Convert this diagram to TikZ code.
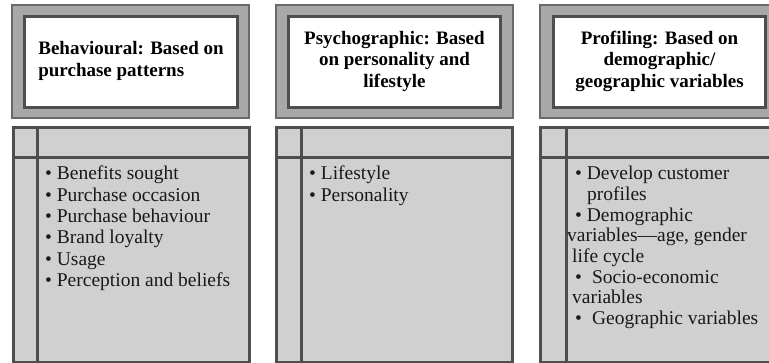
\documentclass[tikz,border=0pt]{standalone}
\usepackage{fontspec}
\setmainfont{Liberation Serif}
\definecolor{framegray}{HTML}{A8A8A8}
\definecolor{panelgray}{HTML}{D0D0D0}
\definecolor{edgedark}{HTML}{4E4E4E}
\definecolor{edgemid}{HTML}{6A6A6A}
\tikzset{
  hdrout/.style={draw=edgemid, fill=framegray, line width=2pt, rectangle,
    anchor=north west, inner sep=0pt, minimum width=237pt, minimum height=113pt},
  hdrin/.style={draw=edgedark, fill=white, line width=3pt, rectangle,
    anchor=north west, inner sep=0pt, minimum height=91pt},
  panel/.style={draw=edgedark, fill=panelgray, line width=2.5pt, rectangle,
    anchor=north west, inner sep=0pt, minimum width=236pt, minimum height=235pt},
  divider/.style={draw=edgedark, line width=3pt},
  hdrtext/.style={font=\fontsize{19}{21.5}\selectfont\bfseries, inner sep=0pt, text=black},
  listtext/.style={font=\fontsize{19.5}{21.3}\selectfont, align=left,
    anchor=north west, inner sep=0pt, text=black!90}
}
\begin{document}
\begin{tikzpicture}[x=1pt,y=-1pt]
\useasboundingbox (0,0) rectangle (769,362);
\clip (0,0) rectangle (769,362);

% column 1: behavioural
\node[hdrout] (h1) at (11,4) {};
\node[hdrin, minimum width=213pt] (i1) at (23,15) {};
\node[hdrtext, align=left] (t1) at ([yshift=1pt]i1.center) {Behavioural: Based on\\purchase patterns};
\node[panel] (p1) at (12,126) {};
\coordinate (v1) at ([xshift=25pt]p1.north west);
\coordinate (r1) at ([yshift=-31pt]p1.north west);
\draw[divider] (v1) -- (v1 |- p1.south);
\draw[divider] (r1) -- (r1 -| p1.east);
\node[listtext] (l1) at (45,166) {• Benefits sought\\• Purchase occasion\\• Purchase behaviour\\• Brand loyalty\\• Usage\\• Perception and beliefs};

% column 2: psychographic
\node[hdrout] (h2) at (275,4) {};
\node[hdrin, minimum width=212pt] (i2) at (287,15) {};
\node[hdrtext, align=center] (t2) at ([yshift=1pt]i2.center) {Psychographic: Based\\on personality and\\lifestyle};
\node[panel] (p2) at (275,126) {};
\coordinate (v2) at ([xshift=26pt]p2.north west);
\coordinate (r2) at ([yshift=-31pt]p2.north west);
\draw[divider] (v2) -- (v2 |- p2.south);
\draw[divider] (r2) -- (r2 -| p2.east);
\node[listtext] (l2) at (309,166) {• Lifestyle\\• Personality};

% column 3: profiling
\node[hdrout] (h3) at (539,4) {};
\node[hdrin, minimum width=212pt] (i3) at (552,15) {};
\node[hdrtext, align=center] (t3) at ([yshift=1pt]i3.center) {Profiling: Based on\\demographic/\\geographic variables};
\node[panel] (p3) at (539,126) {};
\coordinate (v3) at ([xshift=27pt]p3.north west);
\coordinate (r3) at ([yshift=-31pt]p3.north west);
\draw[divider] (v3) -- (v3 |- p3.south);
\draw[divider] (r3) -- (r3 -| p3.east);
\node[listtext, font=\fontsize{19.5}{20.7}\selectfont] (l3) at (567,166) {\hspace*{8pt}• Develop customer\\
  \hspace*{20pt}profiles\\
  \hspace*{8pt}• Demographic\\
  variables---age, gender\\
  \hspace*{5pt}life cycle\\
  \hspace*{8pt}•\hspace{10pt}Socio-economic\\
  \hspace*{5pt}variables\\
  \hspace*{8pt}•\hspace{10pt}Geographic variables};
\end{tikzpicture}
\end{document}
